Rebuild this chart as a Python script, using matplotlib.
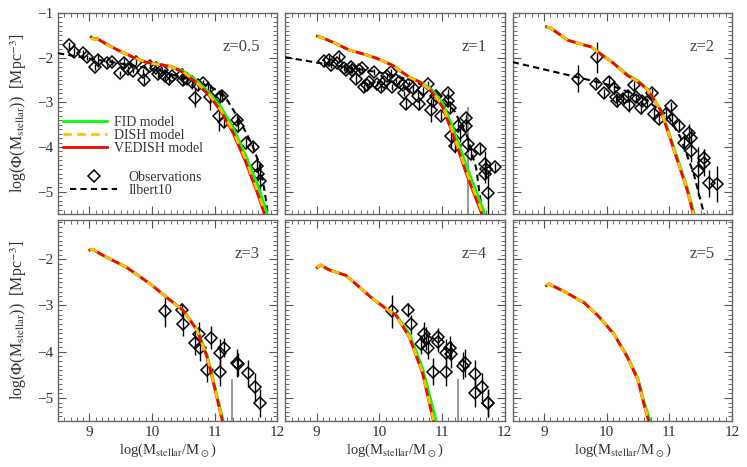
import matplotlib
matplotlib.use("Agg")
import matplotlib.pyplot as plt
from matplotlib.ticker import MultipleLocator

plt.rcParams['font.family'] = ['Liberation Serif', 'DejaVu Serif']
plt.rcParams['mathtext.fontset'] = 'stix'
plt.rcParams['text.color'] = '#333333'
plt.rcParams['axes.labelcolor'] = '#333333'
plt.rcParams['xtick.color'] = '#555555'
plt.rcParams['ytick.color'] = '#555555'
plt.rcParams['xtick.labelcolor'] = '#333333'
plt.rcParams['ytick.labelcolor'] = '#333333'

# ---- data: model stellar mass functions (log Phi) ----
redshifts = ['0.5', '1', '2', '3', '4', '5']

m05_x = [9.03, 9.08, 9.12, 9.3, 9.5, 9.7, 9.9, 10.1, 10.3, 10.5, 10.7, 10.9, 11.1, 11.3, 11.5, 11.7, 11.9]
m05_fid = [-1.54, -1.58, -1.57, -1.72, -1.86, -1.99, -2.10, -2.15, -2.19, -2.30, -2.50, -2.76, -3.10, -3.58, -4.20, -4.90, -5.75]
m05_dish = [-1.55, -1.60, -1.58, -1.73, -1.86, -1.99, -2.10, -2.15, -2.20, -2.32, -2.54, -2.80, -3.17, -3.66, -4.30, -5.05, -5.90]
m05_ved = [-1.54, -1.60, -1.57, -1.72, -1.86, -1.99, -2.10, -2.15, -2.20, -2.33, -2.55, -2.82, -3.20, -3.70, -4.35, -5.10, -5.95]

m1_x = [9.01, 9.1, 9.3, 9.52, 9.75, 9.95, 10.21, 10.48, 10.65, 10.8, 10.9, 11.01, 11.17, 11.39, 11.63, 11.8]
m1_fid = [-1.52, -1.56, -1.68, -1.83, -1.92, -2.01, -2.17, -2.44, -2.54, -2.68, -2.82, -3.02, -3.55, -4.42, -5.30, -5.95]
m1_dish = [-1.53, -1.56, -1.68, -1.83, -1.92, -2.01, -2.17, -2.44, -2.55, -2.71, -2.86, -3.08, -3.66, -4.55, -5.42, -6.05]
m1_ved = [-1.52, -1.56, -1.68, -1.83, -1.92, -2.01, -2.17, -2.44, -2.55, -2.72, -2.88, -3.11, -3.70, -4.60, -5.48, -6.10]

m2_x = [9.04, 9.1, 9.38, 9.75, 10.11, 10.33, 10.5, 10.66, 10.86, 10.97, 11.13, 11.29, 11.38, 11.5]
m2_fid = [-1.31, -1.34, -1.61, -1.76, -2.12, -2.38, -2.52, -2.72, -3.15, -3.58, -4.25, -4.93, -5.42, -5.95]
m2_dish = [-1.31, -1.33, -1.61, -1.76, -2.13, -2.40, -2.53, -2.73, -3.17, -3.61, -4.29, -4.97, -5.47, -6.00]
m2_ved = [-1.31, -1.33, -1.61, -1.76, -2.13, -2.40, -2.53, -2.73, -3.18, -3.63, -4.31, -4.99, -5.50, -6.00]

m3_x = [9.01, 9.06, 9.17, 9.6, 9.97, 10.24, 10.5, 10.72, 10.88, 11.01, 11.12, 11.25]
m3_fid = [-1.80, -1.79, -1.88, -2.18, -2.53, -2.83, -3.10, -3.52, -4.08, -4.78, -5.40, -6.10]
m3_dish = [-1.80, -1.78, -1.88, -2.18, -2.53, -2.83, -3.11, -3.54, -4.11, -4.82, -5.46, -6.18]
m3_ved = [-1.80, -1.78, -1.88, -2.18, -2.53, -2.83, -3.11, -3.54, -4.12, -4.84, -5.48, -6.20]

m4_x = [9.01, 9.06, 9.2, 9.47, 9.68, 9.89, 10.11, 10.27, 10.48, 10.69, 10.86, 11.0]
m4_fid = [-2.18, -2.13, -2.23, -2.35, -2.60, -2.85, -3.07, -3.20, -3.62, -4.35, -5.25, -6.00]
m4_dish = [-2.18, -2.12, -2.23, -2.35, -2.60, -2.85, -3.07, -3.22, -3.68, -4.45, -5.45, -6.25]
m4_ved = [-2.18, -2.12, -2.23, -2.35, -2.60, -2.85, -3.07, -3.22, -3.69, -4.47, -5.48, -6.30]

m5_x = [9.04, 9.08, 9.38, 9.64, 9.86, 10.11, 10.33, 10.5, 10.59, 10.67, 10.8]
m5_fid = [-2.57, -2.54, -2.74, -2.94, -3.22, -3.60, -4.10, -4.58, -5.05, -5.40, -5.95]
m5_dish = [-2.57, -2.53, -2.74, -2.94, -3.22, -3.61, -4.12, -4.61, -5.10, -5.48, -6.05]
m5_ved = [-2.57, -2.53, -2.74, -2.94, -3.22, -3.61, -4.12, -4.62, -5.12, -5.50, -6.10]

# ---- Ilbert et al. 2010 fits (z <= 2 panels) ----
il05_x = [8.5, 9.0, 9.5, 10.0, 10.5, 10.8, 11.0, 11.2, 11.4, 11.6, 11.72, 11.8, 11.86]
il05_y = [-1.90, -2.02, -2.13, -2.25, -2.45, -2.58, -2.70, -2.95, -3.40, -3.95, -4.40, -5.00, -5.60]
il1_x = [8.5, 9.0, 9.5, 10.0, 10.5, 10.8, 11.0, 11.2, 11.4, 11.55, 11.6, 11.66]
il1_y = [-1.99, -2.11, -2.22, -2.33, -2.50, -2.68, -2.88, -3.20, -3.75, -4.50, -5.05, -5.60]
il2_x = [8.5, 9.54, 10.07, 10.55, 10.98, 11.18, 11.39, 11.55, 11.6]
il2_y = [-2.10, -2.44, -2.62, -2.88, -3.30, -3.79, -4.60, -5.48, -5.80]

# ---- observations ----
ob05_x = [8.68, 8.76, 8.90, 8.96, 9.09, 9.14, 9.28, 9.36, 9.49, 9.55, 9.62, 9.70, 9.74, 9.86, 9.87,
          9.97, 10.07, 10.10, 10.16, 10.21, 10.27, 10.32, 10.48, 10.49, 10.56, 10.64, 10.69, 10.74,
          10.82, 10.90, 10.93, 11.09, 11.12, 11.07, 11.15, 11.36, 11.38, 11.50, 11.62, 11.68, 11.70, 11.73]
ob05_y = [-1.72, -1.87, -1.90, -1.99, -2.21, -2.06, -2.12, -2.10, -2.35, -2.11, -2.25, -2.29, -2.10, -2.32, -2.51,
          -2.19, -2.24, -2.36, -2.28, -2.40, -2.47, -2.40, -2.39, -2.51, -2.47, -2.55, -2.90, -2.62,
          -2.57, -2.70, -2.88, -2.88, -2.85, -3.30, -3.45, -3.39, -3.52, -3.90, -3.99, -4.42, -4.61, -4.76]
ob05_e = [0.08, 0.08, 0.08, 0.06, 0.06, 0.15, 0.10, 0.06, 0.06, 0.10, 0.06, 0.06, 0.06, 0.06, 0.08,
          0.06, 0.06, 0.10, 0.06, 0.10, 0.10, 0.06, 0.15, 0.10, 0.06, 0.15, 0.20, 0.10,
          0.06, 0.10, 0.30, 0.10, 0.10, 0.35, 0.10, 0.10, 0.15, 0.10, 0.10, 0.15, 0.15, 0.40]

ob1_x = [9.12, 9.20, 9.23, 9.33, 9.36, 9.44, 9.47, 9.55, 9.57, 9.63, 9.68, 9.73, 9.76, 9.81, 9.84,
         9.92, 9.97, 10.03, 10.08, 10.13, 10.19, 10.21, 10.27, 10.32, 10.37, 10.40, 10.43, 10.48,
         10.53, 10.61, 10.64, 10.69, 10.78, 10.83, 10.85, 10.91, 10.99, 11.09, 11.09, 11.12, 11.15,
         11.20, 11.25, 11.28, 11.38, 11.39, 11.42, 11.47, 11.60, 11.68, 11.68, 11.71, 11.73, 11.85]
ob1_y = [-2.08, -2.06, -2.17, -2.13, -1.99, -2.24, -2.28, -2.21, -2.28, -2.47, -2.28, -2.24, -2.66, -2.62, -2.55,
         -2.32, -2.58, -2.66, -2.55, -2.40, -2.32, -2.66, -2.51, -2.55, -2.62, -2.80, -3.03, -2.58,
         -2.69, -2.85, -3.03, -2.73, -2.58, -3.18, -2.96, -2.85, -3.30, -2.78, -2.96, -3.12, -3.75,
         -3.98, -3.52, -3.68, -3.36, -3.52, -3.93, -4.15, -4.04, -4.38, -4.60, -4.49, -5.03, -4.45]
ob1_e = [0.10, 0.12, 0.06, 0.06, 0.10, 0.06, 0.06, 0.06, 0.06, 0.10, 0.06, 0.06, 0.08, 0.06, 0.06,
         0.06, 0.06, 0.08, 0.06, 0.06, 0.06, 0.06, 0.06, 0.06, 0.06, 0.06, 0.12, 0.06,
         0.08, 0.08, 0.15, 0.08, 0.06, 0.25, 0.15, 0.10, 0.10, 0.08, 0.10, 0.12, 0.25,
         0.15, 0.15, 0.20, 0.10, 0.10, 0.15, 0.12, 0.10, 0.30, 0.20, 0.20, 0.50, 0.10]

ob2_x = [9.54, 9.84, 9.83, 9.96, 10.04, 10.11, 10.15, 10.16, 10.26, 10.34, 10.35, 10.43, 10.46, 10.54,
         10.57, 10.65, 10.73, 10.75, 10.83, 10.94, 11.02, 11.05, 11.15, 11.23, 11.31, 11.34, 11.35,
         11.45, 11.55, 11.55, 11.63, 11.76]
ob2_y = [-2.47, -1.99, -2.58, -2.80, -2.55, -2.69, -2.88, -2.96, -2.92, -2.85, -3.07, -2.62, -2.88, -3.12,
         -2.96, -3.00, -2.78, -3.26, -3.37, -3.26, -3.09, -3.37, -3.52, -3.90, -3.68, -3.79, -4.08,
         -4.54, -4.24, -4.35, -4.81, -4.83]
ob2_e = [0.30, 0.35, 0.10, 0.10, 0.15, 0.15, 0.10, 0.15, 0.10, 0.10, 0.15, 0.10, 0.10, 0.15,
         0.10, 0.10, 0.10, 0.15, 0.10, 0.10, 0.10, 0.15, 0.15, 0.20, 0.20, 0.20, 0.25,
         0.55, 0.20, 0.30, 0.30, 0.40]

ob3_x = [10.21, 10.48, 10.50, 10.69, 10.75, 10.77, 10.88, 10.94, 11.09, 11.09, 11.15, 11.36, 11.37, 11.54, 11.65, 11.72]
ob3_y = [-3.11, -3.09, -3.41, -3.82, -3.61, -3.91, -4.40, -3.70, -4.02, -4.45, -3.91, -4.25, -4.27, -4.47, -4.77, -5.11]
ob3_e = [0.35, 0.15, 0.25, 0.25, 0.25, 0.30, 0.25, 0.25, 0.30, 0.30, 0.20, 0.30, 0.25, 0.30, 0.30, 0.30]

ob4_x = [10.21, 10.46, 10.50, 10.67, 10.72, 10.74, 10.77, 10.85, 10.93, 10.93, 11.07, 11.07, 11.12, 11.15,
         11.33, 11.36, 11.53, 11.53, 11.64, 11.73, 11.74]
ob4_y = [-3.13, -3.09, -3.41, -3.84, -3.61, -3.72, -3.91, -4.43, -3.69, -3.80, -4.02, -4.45, -3.91, -4.06,
         -4.30, -4.25, -4.49, -4.90, -4.77, -5.11, -5.12]
ob4_e = [0.35, 0.15, 0.20, 0.20, 0.25, 0.25, 0.25, 0.30, 0.20, 0.20, 0.30, 0.30, 0.25, 0.30,
         0.30, 0.30, 0.30, 0.30, 0.30, 0.30, 0.30]

# upper limits drawn as grey bars down to the axis floor
lim1_x, lim1_y = [11.42], [-3.40]
lim3_x, lim3_y = [11.28], [-4.90]
lim4_x, lim4_y = [11.25], [-4.90]

models = [(m05_x, m05_fid, m05_dish, m05_ved), (m1_x, m1_fid, m1_dish, m1_ved),
          (m2_x, m2_fid, m2_dish, m2_ved), (m3_x, m3_fid, m3_dish, m3_ved),
          (m4_x, m4_fid, m4_dish, m4_ved), (m5_x, m5_fid, m5_dish, m5_ved)]
ilbert = [(il05_x, il05_y), (il1_x, il1_y), (il2_x, il2_y), None, None, None]
obs = [(ob05_x, ob05_y, ob05_e), (ob1_x, ob1_y, ob1_e), (ob2_x, ob2_y, ob2_e),
       (ob3_x, ob3_y, ob3_e), (ob4_x, ob4_y, ob4_e), None]
lims = [None, (lim1_x, lim1_y), None, (lim3_x, lim3_y), (lim4_x, lim4_y), None]

fig, axes = plt.subplots(2, 3, figsize=(7.47, 4.67), dpi=100, sharex=True, sharey='row')
fig.subplots_adjust(left=58/747, right=732/747, top=1-13/467, bottom=1-421/467,
                    wspace=0.037, hspace=0.03)

for i, ax in enumerate(axes.flat):
    if lims[i] is not None:
        lx, ly = lims[i]
        ax.errorbar(lx, ly, yerr=[[3.0] * len(ly), [0.3] * len(ly)], fmt='none',
                    ecolor='#888888', elinewidth=1.2, zorder=2)
    if obs[i] is not None:
        ox, oy, oe = obs[i]
        ax.errorbar(ox, oy, yerr=oe, fmt='D', ms=6.5, mfc='none', mec='black', mew=1.1,
                    ecolor='black', elinewidth=1.0, capsize=0, zorder=3)
    if ilbert[i] is not None:
        ax.plot(ilbert[i][0], ilbert[i][1], color='black', ls=(0, (3, 2)), lw=1.5, zorder=4)
    mx, fid, dish, ved = models[i]
    ax.plot(mx, fid, color='#00ff00', lw=2.0, zorder=5)
    ax.plot(mx, ved, color='#ff0000', lw=2.0, zorder=6)
    ax.plot(mx, dish, color='#ffc000', lw=2.0, ls=(0, (3, 3)), zorder=7)

    ax.text(0.92, 0.83, 'z=' + redshifts[i], transform=ax.transAxes, ha='right', va='center',
            fontsize=12, color='#444444')

    ax.set_xlim(8.5, 12.0)
    ax.xaxis.set_major_locator(MultipleLocator(1))
    ax.xaxis.set_minor_locator(MultipleLocator(0.1))
    ax.yaxis.set_major_locator(MultipleLocator(1))
    ax.yaxis.set_minor_locator(MultipleLocator(0.1))
    ax.tick_params(which='both', direction='in', top=True, right=True, labelsize=11)
    ax.tick_params(which='major', length=6, width=0.8)
    ax.tick_params(which='minor', length=3, width=0.6)
    for s in ax.spines.values():
        s.set_color('#666666')
        s.set_linewidth(1.0)

axes[0, 0].set_ylim(-5.5, -1.0)
axes[1, 0].set_ylim(-5.5, -1.15)

ylab = r'log($\Phi$(M$_{\rm stellar}$))  [Mpc$^{-3}$]'
xlab = r'log(M$_{\rm stellar}$/M$_\odot$)'
for ax in axes[:, 0]:
    ax.set_ylabel(ylab, fontsize=11.5, labelpad=6)
for ax in axes[1, :]:
    ax.set_xlabel(xlab, fontsize=10.5, labelpad=2)

# legends in first panel
ax0 = axes[0, 0]
h_fid, = ax0.plot([], [], color='#00ff00', lw=2.0)
h_dish, = ax0.plot([], [], color='#ffc000', lw=2.0, ls=(0, (3, 2)))
h_ved, = ax0.plot([], [], color='#ff0000', lw=2.0)
leg1 = ax0.legend([h_fid, h_dish, h_ved], ['FID model', 'DISH model', 'VEDISH model'],
                  loc='upper left', bbox_to_anchor=(0.023, 0.49), frameon=False, fontsize=10,
                  handlelength=3.2, handletextpad=0.5, labelspacing=0.0, borderpad=0,
                  borderaxespad=0)
ax0.add_artist(leg1)
h_obs, = ax0.plot([], [], 'D', ms=6.5, mfc='none', mec='black', mew=1.1)
h_il, = ax0.plot([], [], color='black', ls=(0, (3, 2)), lw=1.5)
ax0.legend([h_obs, h_il], ['Observations', 'Ilbert10'],
           loc='upper left', bbox_to_anchor=(0.055, 0.215), frameon=False, fontsize=10,
           handlelength=3.4, handletextpad=0.8, labelspacing=0.0, borderpad=0,
           borderaxespad=0)

fig.savefig('out.png', dpi=100)
